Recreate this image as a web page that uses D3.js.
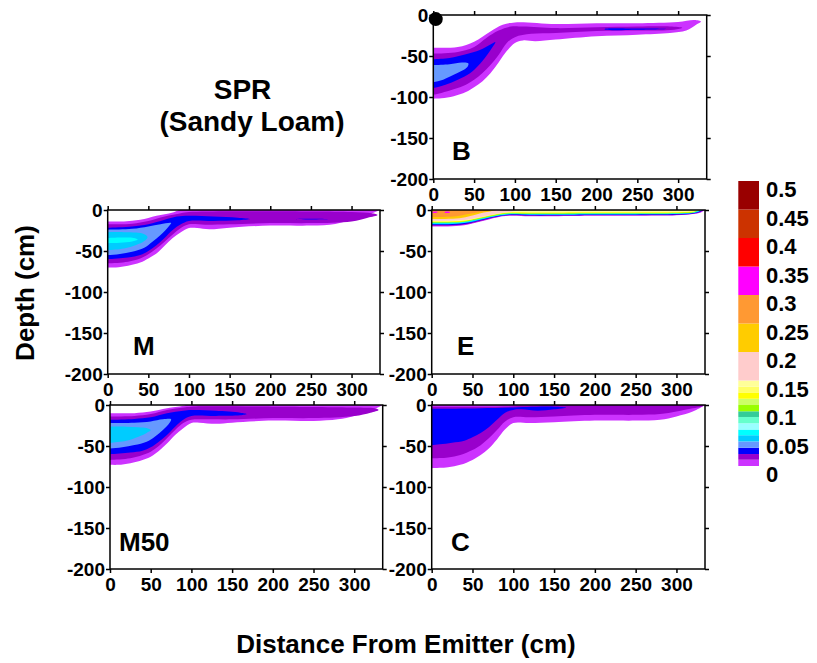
<!DOCTYPE html>
<html>
<head>
<meta charset="utf-8">
<script src="https://cdnjs.cloudflare.com/ajax/libs/d3/7.8.5/d3.min.js"></script>
<style>
  body { margin: 0; background: #fff; }
  text { font-family: "Liberation Sans", Arial, sans-serif; font-weight: bold; fill: #000; }
</style>
</head>
<body>
<script>
// colour scale levels (water content) and their colours, low to high
var levels = [0, 0.011, 0.021, 0.032, 0.043, 0.054, 0.064, 0.075, 0.086, 0.096, 0.107,
              0.118, 0.129, 0.139, 0.15, 0.2, 0.25, 0.3, 0.35, 0.4, 0.45, 0.5];
var levelColors = ["#cc33ff", "#9900cc", "#0000ff", "#6699ff", "#00ccff", "#00ffff", "#99ffff",
                   "#66ffcc", "#33cc99", "#99ff00", "#ccff66", "#ffff00", "#ffff66", "#ffff99",
                   "#ffcccc", "#ffcc00", "#ff9933", "#ff00ff", "#ff0000", "#cc3300", "#990000"];
var legendLabels = [0, 0.05, 0.1, 0.15, 0.2, 0.25, 0.3, 0.35, 0.4, 0.45, 0.5];
var xTicks = [0, 50, 100, 150, 200, 250, 300];
var yTicks = [0, -50, -100, -150, -200];

// contour regions: v = water content, pts = [distance, depth]
var regionsB = [
  {v: 0.005, pts: [[-5,-40],[0,-40],[30,-39],[50,-32.5],[70,-20],[85,-12],[100,-9],[150,-11],[200,-10],[250,-10],[300,-8.5],[320,-6],[328,-8],
                   [322,-12],[310,-19],[290,-22],[250,-24],[200,-26],[150,-30],[125,-32],[110,-31],[100,-34],[90,-44],[80,-58],[70,-71],[60,-81],[50,-88],[40,-94],[25,-99],[10,-101.6],[0,-102],[-5,-102]]},
  {v: 0.015, pts: [[-5,-47],[0,-47],[30,-45],[50,-39],[65,-28],[80,-19],[95,-14],[110,-14],[150,-16],[200,-15],[250,-14],[290,-14],[305,-15.5],
                   [295,-18],[250,-19],[200,-19.5],[150,-22],[120,-23],[100,-27],[90,-34],[80,-48.8],[70,-61],[60,-71],[50,-79],[40,-85],[25,-90.6],[10,-95],[0,-97],[-5,-97]]},
  {v: 0.025, pts: [[-5,-54],[0,-54],[20,-52.5],[40,-48],[57,-42.7],[70,-36],[76,-33],
                   [72,-40],[65,-50],[55,-62],[45,-71],[30,-79],[15,-85],[0,-89],[-5,-89]]},
  {v: 0.025, pts: [[210,-17],[250,-16.6],[285,-17],[250,-17.9],[210,-17.8]]},
  {v: 0.035, pts: [[-5,-61],[0,-61],[20,-60],[35,-58],[43,-59],
                   [42,-63],[35,-68],[25,-73],[12,-79],[0,-82],[-5,-82]]}
];

var regionsM = [
  {v: 0.005, pts: [[-5,-14],[0,-14],[20,-14],[40,-12],[60,-7],[80,-3],[95,2],[335,2],[338,2],
                   [335,0],[320,-6],[300,-12],[280,-17],[250,-19],[200,-19],[150,-21.5],[125,-23.5],[110,-22],[100,-22],[90,-27],[80,-34],[70,-43.5],[60,-53],[50,-59],[40,-64],[25,-68],[10,-70],[0,-70],[-5,-70]]},
  {v: 0.015, pts: [[-5,-17.5],[0,-17.5],[30,-16.7],[50,-13.4],[70,-8],[90,-4],[100,-2.5],[150,-1.5],[200,-1.5],[300,-2.5],[325,-4],[332,-6],
                   [320,-9.3],[300,-14],[250,-16],[200,-16],[150,-17.5],[120,-18],[100,-17.5],[90,-22],[80,-30],[70,-38.6],[60,-47],[50,-54],[40,-59],[25,-63],[0,-65],[-5,-65]]},
  {v: 0.025, pts: [[-5,-21.5],[0,-21.5],[30,-20],[50,-17.5],[70,-12],[85,-8],[100,-7],[130,-8],[160,-9.3],[175,-11],
                   [160,-12.6],[130,-13.4],[100,-13.4],[90,-17.5],[80,-24.4],[70,-34],[60,-43],[50,-50],[40,-55],[25,-58],[0,-60],[-5,-60]]},
  {v: 0.025, pts: [[228,-11],[250,-10.6],[272,-11],[250,-11.6]]},
  {v: 0.035, pts: [[-5,-24],[0,-24],[30,-23],[50,-20],[65,-17.5],[78,-16],
                   [75,-20],[65,-30.5],[55,-38.6],[45,-46],[30,-51],[15,-53.7],[0,-55],[-5,-55]]},
  {v: 0.045, pts: [[-5,-27],[0,-27],[20,-27],[35,-27.5],[45,-29.5],[49,-33],
                   [45,-37.8],[35,-42.7],[20,-47],[0,-49],[-5,-49]]},
  {v: 0.058, pts: [[-5,-34],[0,-34],[20,-33.5],[32,-34],[37,-36],[30,-38.5],[15,-40],[0,-40.5],[-5,-40.5]]}
];

var regionsE = [
  {v: 0.005, pts: [[-5,2],[338,2],[335,0],[330,-3],[320,-5],[300,-6.5],[250,-7],[200,-7],[150,-7.5],[120,-7.5],[95,-7],[80,-9],[60,-14],[40,-18.5],[20,-20],[0,-20],[-5,-20]]},
  {v: 0.015, pts: [[-5,2],[338,2],[334,0],[329,-2.6],[320,-4.6],[300,-6],[250,-6.5],[200,-6.5],[150,-7],[120,-7],[95,-6.5],[80,-8.5],[60,-13.3],[40,-17.8],[20,-19.2],[0,-19.2],[-5,-19.2]]},
  {v: 0.025, pts: [[-5,2],[337,2],[333,0],[328,-2.3],[320,-4.2],[300,-5.5],[250,-6],[200,-6],[150,-6.5],[120,-6.5],[95,-6],[80,-8],[60,-12.6],[40,-17],[20,-18.3],[0,-18.3],[-5,-18.3]]},
  {v: 0.045, pts: [[-5,2],[336,2],[332,0],[327,-2],[320,-3.8],[300,-5],[250,-5.4],[200,-5.4],[150,-5.8],[120,-5.8],[95,-5.4],[80,-7.4],[60,-11.8],[40,-16],[20,-17.3],[0,-17.3],[-5,-17.3]]},
  {v: 0.058, pts: [[-5,2],[335,2],[331,0],[326,-1.7],[320,-3.4],[300,-4.5],[250,-4.9],[200,-4.9],[150,-5.2],[120,-5.2],[95,-4.9],[80,-6.9],[60,-11],[40,-15.2],[20,-16.5],[0,-16.5],[-5,-16.5]]},
  {v: 0.1, pts: [[-5,2],[334,2],[330,0],[325,-1.4],[320,-3],[300,-4],[250,-4.3],[200,-4.3],[150,-4.6],[120,-4.6],[95,-4.3],[80,-6.3],[60,-10.3],[40,-14.4],[20,-15.6],[0,-15.6],[-5,-15.6]]},
  {v: 0.12, pts: [[-5,2],[333,2],[329,0],[324,-1.1],[320,-2.5],[300,-3.4],[250,-3.7],[200,-3.7],[150,-3.9],[120,-3.9],[95,-3.7],[80,-5.6],[60,-9.6],[40,-13.6],[20,-14.7],[0,-14.7],[-5,-14.7]]},
  {v: 0.145, pts: [[-5,2],[332,2],[328,0],[320,-1.8],[300,-2.6],[250,-2.8],[200,-2.8],[150,-3],[120,-3],[95,-3],[80,-4.9],[60,-9],[40,-12.9],[20,-13.9],[0,-13.9],[-5,-13.9]]},
  {v: 0.17, pts: [[-5,2],[120,2],[110,0],[100,-1.5],[90,-3],[80,-4.6],[60,-8.6],[40,-12.3],[20,-13.2],[0,-13.2],[-5,-13.2]]},
  {v: 0.22, pts: [[-5,2],[85,2],[75,-1],[60,-4],[45,-8],[30,-10.5],[0,-11],[-5,-11]]},
  {v: 0.27, pts: [[-5,2],[78,2],[70,-0.5],[60,-2],[45,-5],[30,-7.5],[0,-8.5],[-5,-8.5]]},
  {v: 0.32, pts: [[1,-2.5],[7,-2.2],[7,-3.2],[1,-3.4]]},
  {v: 0.32, pts: [[16,-2.5],[22,-2.3],[22,-3.3],[16,-3.4]]}
];

var regionsM50 = [
  {v: 0.005, pts: [[-5,-10],[0,-10],[30,-10],[50,-8],[70,-4],[90,-1],[100,2],[335,2],[338,2],
                   [335,0],[320,-7],[300,-13.4],[280,-17.5],[250,-19.5],[200,-19],[150,-21.5],[130,-23],[110,-21.5],[100,-22],[90,-28.5],[80,-36.6],[70,-47],[60,-56],[50,-63],[40,-67],[25,-71],[10,-73],[0,-73],[-5,-73]]},
  {v: 0.015, pts: [[-5,-14],[0,-14],[30,-13.4],[50,-11],[70,-6],[90,-3],[100,-2],[200,-2],[300,-3],[325,-4],[330,-6],
                   [320,-9.3],[300,-13.4],[250,-16],[200,-16],[150,-17.5],[120,-17.5],[100,-18],[90,-22],[80,-30.5],[70,-40.6],[60,-50],[50,-57],[40,-61],[25,-65],[0,-67],[-5,-67]]},
  {v: 0.025, pts: [[-5,-18],[0,-18],[30,-17],[50,-15],[70,-10],[90,-7],[100,-6],[130,-7],[160,-9.3],[168,-11],
                   [160,-12.6],[130,-13.4],[100,-13.4],[90,-18],[80,-26.4],[70,-36.6],[60,-44.7],[50,-51.6],[40,-55.7],[25,-58],[0,-60],[-5,-60]]},
  {v: 0.035, pts: [[-5,-22],[0,-22],[30,-21.5],[50,-20],[65,-17.5],[75,-17.5],
                   [73,-22],[65,-30.5],[55,-38.6],[45,-44.7],[30,-48.8],[15,-51.6],[0,-53],[-5,-53]]},
  {v: 0.045, pts: [[-5,-26.4],[0,-26.4],[20,-26.4],[35,-27],[45,-28],[50,-30.5],
                   [45,-34],[35,-38.6],[20,-43.5],[0,-46],[-5,-46]]}
];

var regionsC = [
  {v: 0.005, pts: [[-5,2],[335,2],[338,2],[335,0],[320,-8],[300,-14],[280,-18],[250,-19],[200,-19],[150,-21],[120,-22],[100,-22],[90,-29.7],[80,-42],[70,-53],[60,-61],[50,-67],[35,-73],[20,-76],[0,-77],[-5,-77]]},
  {v: 0.015, pts: [[-5,-2],[0,-2],[80,-2],[120,-1],[160,1],[330,1],
                   [333,-1],[330,-2],[320,-4],[300,-8],[280,-11],[250,-12],[200,-12],[150,-14],[120,-15],[100,-15],[90,-20],[80,-30.5],[70,-40.6],[60,-49],[50,-55],[35,-61],[20,-64],[0,-65],[-5,-65]]},
  {v: 0.025, pts: [[-5,-4.5],[0,-4.5],[30,-4.5],[60,-4],[100,-3],[150,-2],[165,-3],
                   [150,-5.3],[130,-7],[110,-5.3],[100,-6],[90,-9.3],[80,-18],[70,-27],[60,-34],[50,-39.4],[40,-43.5],[25,-46],[10,-48],[0,-49],[-5,-49]]}
];

// where each panel sits on the page
var panelH = 164;
var panels = [
  {label: "B",   regions: regionsB,   left: 433.3, right: 706.7, top: 15,  lx: 452, ly: 160},
  {label: "M",   regions: regionsM,   left: 107.7, right: 380,   top: 210, lx: 133, ly: 355},
  {label: "E",   regions: regionsE,   left: 431.7, right: 705,   top: 210, lx: 457, ly: 355},
  {label: "M50", regions: regionsM50, left: 110,   right: 382.7, top: 405, lx: 119, ly: 551},
  {label: "C",   regions: regionsC,   left: 431.7, right: 705,   top: 405, lx: 451, ly: 551}
];

var color = d3.scaleThreshold()
    .domain(levels.slice(1, -1))
    .range(levelColors);

// plain hyphen for negative labels, like the original
var fmt = function(d) { return String(d); };

var svg = d3.select("body").append("svg")
    .attr("width", 817)
    .attr("height", 663);

panels.forEach(function(p, i) {
  var w = p.right - p.left;
  var x = d3.scaleLinear().domain([0, 335]).range([0, w]);
  var y = d3.scaleLinear().domain([0, -200]).range([0, panelH]);

  var g = svg.append("g")
      .attr("transform", "translate(" + p.left + "," + p.top + ")");

  g.append("clipPath")
      .attr("id", "clip" + i)
    .append("rect")
      .attr("width", w)
      .attr("height", panelH);

  var line = d3.line()
      .x(function(d) { return x(d[0]); })
      .y(function(d) { return y(d[1]); })
      .curve(d3.curveCatmullRomClosed.alpha(0.5));

  g.append("g")
      .attr("clip-path", "url(#clip" + i + ")")
    .selectAll("path")
      .data(p.regions.slice().sort(function(a, b) { return a.v - b.v; }))
    .enter().append("path")
      .attr("d", function(d) { return line(d.pts); })
      .attr("fill", function(d) { return color(d.v); });

  // axes, ticks pointing outward on all four sides
  var bottom = g.append("g")
      .attr("transform", "translate(0," + panelH + ")")
      .call(d3.axisBottom(x).tickValues(xTicks).tickSize(4).tickPadding(5).tickFormat(fmt));
  var left = g.append("g")
      .call(d3.axisLeft(y).tickValues(yTicks).tickSize(4).tickPadding(1).tickFormat(fmt));
  var top = g.append("g")
      .call(d3.axisTop(x).tickValues(xTicks).tickSize(4).tickFormat(""));
  var right = g.append("g")
      .attr("transform", "translate(" + w + ",0)")
      .call(d3.axisRight(y).tickValues(yTicks).tickSize(4).tickFormat(""));

  [bottom, left, top, right].forEach(function(a) {
    a.select(".domain").remove();
    a.selectAll("line").attr("stroke", "#000").attr("stroke-width", 1.5);
    a.selectAll("text")
        .style("font-size", "19px")
        .style("font-family", "'Liberation Sans', Arial, sans-serif")
        .style("font-weight", "bold");
  });

  g.append("rect")
      .attr("width", w)
      .attr("height", panelH)
      .attr("fill", "none")
      .attr("stroke", "#000")
      .attr("stroke-width", 1.5);

  svg.append("text")
      .attr("x", p.lx)
      .attr("y", p.ly)
      .style("font-size", "26px")
      .text(p.label);

  // emitter marker on panel B
  if (p.label === "B") {
    g.append("circle")
        .attr("cx", x(3))
        .attr("cy", y(-5))
        .attr("r", 7)
        .attr("fill", "#000");
  }
});

// colour bar
var cy = d3.scaleLinear().domain([0, 0.5]).range([466, 181]);
svg.append("g").selectAll("rect")
    .data(levelColors)
  .enter().append("rect")
    .attr("x", 738.3)
    .attr("width", 20.7)
    .attr("y", function(d, i) { return cy(levels[i + 1]); })
    .attr("height", function(d, i) { return cy(levels[i]) - cy(levels[i + 1]); })
    .attr("fill", function(d) { return d; });

svg.append("g").selectAll("text")
    .data(legendLabels)
  .enter().append("text")
    .attr("x", 766)
    .attr("y", function(d) { return cy(d) + 16; })
    .style("font-size", "22px")
    .text(function(d) { return d; });

// titles
svg.append("text")
    .attr("x", 242.5).attr("y", 99)
    .attr("text-anchor", "middle")
    .style("font-size", "28px")
    .text("SPR");
svg.append("text")
    .attr("x", 252).attr("y", 131)
    .attr("text-anchor", "middle")
    .style("font-size", "28px")
    .text("(Sandy Loam)");
svg.append("text")
    .attr("transform", "translate(34,293) rotate(-90)")
    .attr("text-anchor", "middle")
    .style("font-size", "26px")
    .text("Depth (cm)");
svg.append("text")
    .attr("x", 406).attr("y", 653)
    .attr("text-anchor", "middle")
    .style("font-size", "26px")
    .text("Distance From Emitter (cm)");
</script>
</body>
</html>
